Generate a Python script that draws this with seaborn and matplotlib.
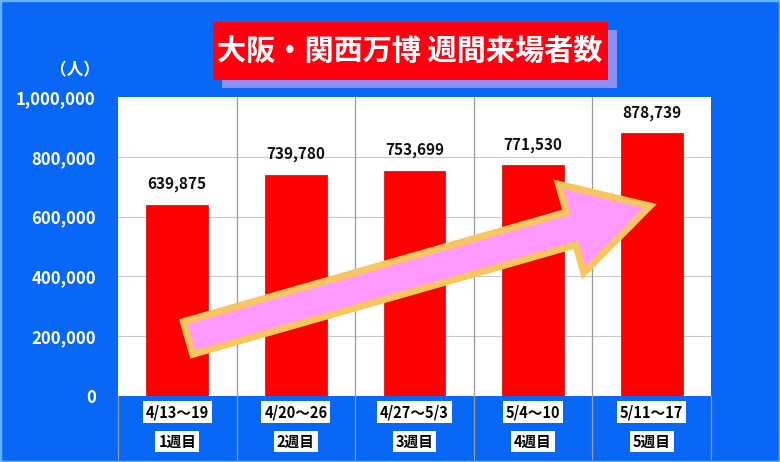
import matplotlib
matplotlib.use("Agg")
import matplotlib.pyplot as plt
import matplotlib.patches as mpatches
import matplotlib.transforms as mtransforms
import numpy as np
import pandas as pd
import seaborn as sns

categories = ["4/13～19", "4/20～26", "4/27～5/3", "5/4～10", "5/11～17"]
weeks = ["1週目", "2週目", "3週目", "4週目", "5週目"]
visitors = [639875, 739780, 753699, 771530, 878739]
yticks = [0, 200000, 400000, 600000, 800000, 1000000]
title = "大阪・関西万博 週間来場者数"
unit = "（人）"

sns.set_theme(style="white")
plt.rcParams['font.family'] = ['Noto Sans CJK JP', 'DejaVu Sans']

BLUE = "#0867f5"
W, H = 780, 462
fig = plt.figure(figsize=(W / 100, H / 100), dpi=100, facecolor=BLUE)

L, R, T, B = 118, 711, 97, 396
ax = fig.add_axes([L / W, (H - B) / H, (R - L) / W, (B - T) / H])
ax.set_facecolor("white")

df = pd.DataFrame({"cat": categories, "v": visitors})
sns.barplot(data=df, x="cat", y="v", color="#ff0000", width=0.52, ax=ax,
            saturation=1, edgecolor="#dd0000", linewidth=0.5, zorder=3)

ax.set_xlim(-0.5, len(categories) - 0.5)
ax.set_ylim(0, 1000000)
ax.set_yticks(yticks)
ax.set_yticklabels([f"{v:,}" for v in yticks], color="white", fontsize=12,
                   fontweight="bold")
ax.tick_params(axis="y", length=0, pad=16)
ax.set_xticks([])
ax.set_xlabel("")
ax.set_ylabel("")
for s in ax.spines.values():
    s.set_visible(False)

# gridlines
for v in yticks[1:-1]:
    ax.axhline(v, color="#c8c8c8", lw=0.8, zorder=1)
trans = ax.get_xaxis_transform()
for i in range(1, len(categories)):
    ax.plot([i - 0.5, i - 0.5], [-0.21, 1], color="#9a9a9a", lw=0.9,
            transform=trans, clip_on=False, zorder=2)
for xb in [-0.5, len(categories) - 0.5]:
    ax.plot([xb, xb], [-0.21, 0], color="#9a9a9a", lw=0.9,
            transform=trans, clip_on=False, zorder=2)

# value labels
for i, v in enumerate(visitors):
    ax.annotate(f"{v:,}", (i, v), xytext=(0, 9), textcoords="offset points",
                ha="center", va="bottom", fontsize=11, fontweight="bold",
                color="#111111", zorder=4)

# table labels
for i, (c, w) in enumerate(zip(categories, weeks)):
    ax.text(i, -0.054, c, transform=trans, ha="center", va="center",
            fontsize=10.5, fontweight="bold", color="black",
            bbox=dict(boxstyle="square,pad=0.2", fc="white", ec="none"))
    ax.text(i, -0.152, w, transform=trans, ha="center", va="center",
            fontsize=10.5, fontweight="bold", color="black",
            bbox=dict(boxstyle="square,pad=0.2", fc="white", ec="none"))

# unit label
fig.text(100 / W, 1 - 70 / H, unit, ha="right", va="center", color="white",
         fontsize=12, fontweight="bold")

# title box with shadow
fig.patches.append(mpatches.Rectangle((222 / W, 1 - 88 / H), 395 / W, 58 / H,
                   transform=fig.transFigure, fc="#8e8ef5", ec="none", zorder=1))
fig.patches.append(mpatches.Rectangle((213 / W, 1 - 80 / H), 395 / W, 58 / H,
                   transform=fig.transFigure, fc="#ff0010", ec="none", zorder=2))
fig.text(410 / W, 1 - 51 / H, title, ha="center", va="center", color="white",
         fontsize=21, fontweight="bold", zorder=3)

# decorative arrow (pixel coordinates, top-origin)
tail = np.array([188.0, 338.0])
tip = np.array([650.0, 206.0])
d = tip - tail
ln = np.hypot(*d)
u = d / ln
n = np.array([-u[1], u[0]])
sw, hw, hl = 34.0, 92.0, 82.0
base = tip - u * hl
pts = [tail + n * sw / 2, base + n * sw / 2, base + n * hw / 2, tip,
       base - n * hw / 2, base - n * sw / 2, tail - n * sw / 2]
pts = [(p[0], H - p[1]) for p in pts]
arrow = mpatches.Polygon(pts, closed=True, fc="#ff99ff", ec="#f7c65e", lw=5,
                         joinstyle="miter", transform=mtransforms.IdentityTransform(),
                         zorder=10)
fig.patches.append(arrow)

# outer border
fig.patches.append(mpatches.Rectangle((0, 0), 1, 1, transform=fig.transFigure,
                   fc="none", ec="#66b3ff", lw=2.5, zorder=20))

fig.savefig("out.png", dpi=100, facecolor=BLUE)
